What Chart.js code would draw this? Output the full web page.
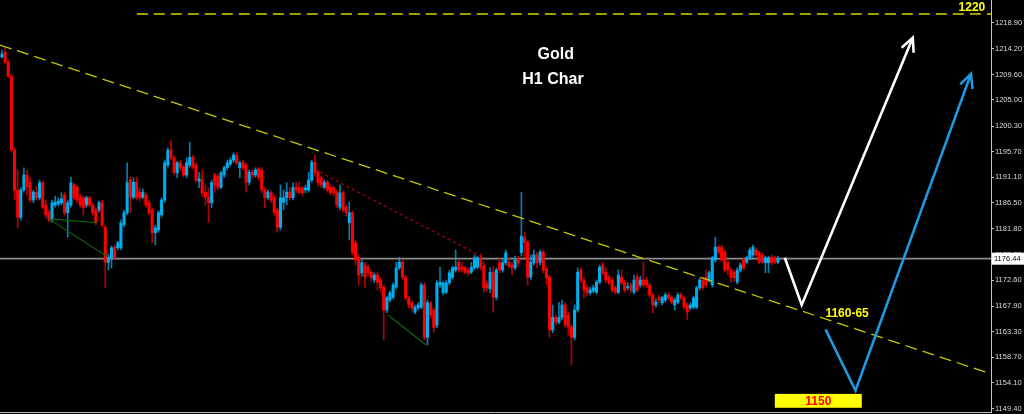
<!DOCTYPE html>
<html><head><meta charset="utf-8">
<script src="https://cdn.jsdelivr.net/npm/chart.js@4.4.1/dist/chart.umd.min.js"></script>
<style>html,body{margin:0;padding:0;background:#000;overflow:hidden}#wrap{width:1024px;height:414px;position:relative}</style>
</head><body><div id="wrap"><canvas id="c" width="1024" height="414"></canvas></div>
<script>
// ---- Candle data (Gold H1) ----
const opens = [
1212.7,1213.6,1211.8,1209.3,1196.0,1188.8,1183.9,1188.8,1191.5,1190.1,
1187.0,1188.4,1187.4,1190.1,1186.1,1184.8,1183.4,1186.1,1186.3,1186.5,
1187.9,1184.7,1186.1,1189.7,1189.3,1187.5,1187.4,1186.1,1187.4,1186.1,
1185.2,1185.2,1186.5,1182.1,1175.8,1176.6,1178.5,1178.4,1178.4,1182.5,
1184.7,1190.6,1187.5,1190.2,1188.4,1187.5,1187.9,1186.5,1185.2,1181.1,
1181.6,1184.3,1187.0,1193.3,1196.0,1194.6,1191.9,1193.7,1192.9,1191.5,
1193.3,1194.7,1193.3,1190.4,1190.6,1188.4,1187.5,1186.5,1191.5,1191.3,
1189.3,1191.5,1192.8,1193.5,1194.2,1195.1,1192.8,1193.7,1193.3,1190.2,
1192.0,1191.5,1192.6,1192.4,1188.8,1187.4,1188.3,1187.5,1185.2,1182.1,
1186.6,1187.4,1188.4,1187.4,1189.3,1189.2,1189.2,1188.8,1188.8,1190.6,
1193.8,1192.0,1191.0,1189.3,1190.2,1189.3,1189.2,1188.4,1185.7,1188.3,
1185.7,1182.9,1184.7,1179.3,1176.7,1173.9,1175.3,1174.9,1174.0,1172.6,
1173.5,1172.6,1171.3,1167.2,1169.0,1169.5,1171.3,1174.8,1175.8,1173.1,
1169.4,1168.5,1166.8,1167.6,1167.7,1171.7,1162.3,1168.5,1167.2,1164.5,
1171.7,1170.3,1170.4,1172.1,1173.1,1174.4,1175.8,1174.9,1174.8,1174.4,
1174.0,1174.8,1174.9,1176.6,1175.1,1171.9,1171.0,1174.0,1169.5,1175.7,
1174.4,1175.7,1175.8,1175.3,1174.8,1176.4,1177.5,1180.3,1179.4,1173.1,
1175.7,1177.1,1175.8,1177.6,1174.6,1173.1,1163.6,1165.9,1165.0,1165.9,
1168.1,1166.3,1164.1,1162.3,1167.2,1174.4,1172.6,1171.2,1170.3,1170.6,
1170.4,1172.2,1175.3,1174.0,1173.1,1172.6,1171.2,1170.4,1173.1,1172.2,
1171.2,1171.7,1170.4,1173.1,1171.7,1172.6,1172.6,1171.7,1169.9,1168.1,
1169.5,1168.5,1169.0,1169.9,1169.5,1168.1,1168.6,1169.9,1169.4,1168.1,
1167.6,1167.7,1167.7,1171.2,1172.6,1173.1,1172.6,1171.7,1176.2,1178.5,
1178.5,1177.6,1175.7,1174.4,1174.0,1172.2,1174.4,1176.2,1175.8,1176.6,
1177.1,1178.0,1177.5,1177.1,1175.7,1175.7,1176.7,1176.6,1175.8];
const closes = [
1213.3,1211.8,1209.3,1196.0,1188.8,1183.9,1188.8,1191.5,1189.3,1187.0,
1188.4,1187.4,1190.1,1185.7,1184.3,1183.4,1186.5,1186.6,1186.8,1187.2,
1184.7,1186.5,1190.1,1187.4,1187.0,1186.1,1185.7,1187.4,1186.1,1184.7,
1182.9,1186.5,1182.5,1175.8,1176.7,1178.4,1176.7,1179.3,1182.9,1184.7,
1190.1,1187.5,1190.2,1187.4,1187.4,1188.4,1186.1,1184.7,1181.1,1182.0,
1184.7,1187.0,1193.7,1196.0,1194.6,1191.9,1193.7,1192.8,1191.5,1193.7,
1194.7,1192.9,1190.6,1190.8,1188.3,1187.5,1186.5,1190.1,1189.7,1189.3,
1191.9,1192.8,1193.7,1194.2,1195.1,1193.7,1193.7,1192.8,1190.2,1192.0,
1191.5,1192.4,1191.1,1188.8,1187.4,1188.4,1187.0,1184.8,1182.1,1187.4,
1187.4,1188.4,1187.4,1189.3,1188.8,1188.4,1188.3,1189.2,1190.6,1193.8,
1191.9,1190.1,1189.7,1190.2,1188.8,1188.3,1188.3,1186.1,1188.3,1185.2,
1184.7,1184.7,1177.6,1176.2,1173.5,1175.7,1173.1,1173.9,1173.0,1173.5,
1172.2,1171.2,1167.2,1169.4,1170.3,1171.7,1174.8,1175.8,1173.1,1169.4,
1168.1,1167.6,1167.7,1168.1,1171.7,1162.3,1168.5,1166.3,1164.1,1172.1,
1172.2,1172.1,1172.1,1173.9,1174.8,1174.9,1174.4,1174.4,1174.0,1173.9,
1174.9,1176.6,1176.6,1174.9,1171.2,1171.2,1174.0,1169.5,1174.4,1174.4,
1175.7,1177.5,1175.1,1174.8,1176.2,1175.7,1180.5,1179.3,1173.1,1175.8,
1177.1,1175.7,1177.6,1174.4,1173.0,1163.6,1165.9,1165.0,1165.9,1168.1,
1164.5,1164.1,1162.3,1167.2,1174.0,1172.6,1170.8,1170.3,1170.8,1171.2,
1172.2,1174.9,1173.9,1172.6,1172.1,1170.8,1170.4,1173.5,1172.1,1170.8,
1171.3,1170.8,1172.6,1170.8,1172.6,1171.7,1171.7,1169.9,1168.1,1168.6,
1169.0,1169.4,1169.9,1169.4,1168.6,1169.0,1169.9,1169.4,1167.7,1166.8,
1168.1,1169.4,1171.2,1172.6,1171.2,1171.7,1173.9,1176.6,1178.5,1177.6,
1176.2,1174.4,1174.4,1173.0,1173.0,1174.4,1175.3,1174.8,1176.6,1178.0,
1178.5,1177.1,1175.8,1175.8,1176.6,1176.6,1175.7,1175.8,1176.44];
const highs = [
1214.0,1214.4,1212.2,1209.7,1196.4,1192.4,1189.2,1192.8,1192.4,1191.0,
1188.8,1189.5,1190.6,1190.4,1187.0,1185.2,1187.0,1187.7,1187.4,1188.3,
1188.4,1187.0,1191.1,1190.1,1189.7,1188.1,1187.7,1187.7,1187.7,1186.5,
1185.6,1186.8,1187.0,1182.5,1177.3,1178.7,1178.9,1179.6,1183.4,1185.2,
1193.7,1191.1,1191.0,1191.1,1189.2,1189.0,1188.3,1187.0,1185.6,1182.5,
1185.0,1187.4,1194.2,1196.4,1197.8,1194.9,1194.0,1194.2,1193.3,1194.6,
1197.4,1195.1,1193.7,1192.0,1192.4,1189.7,1189.2,1190.6,1191.9,1191.7,
1192.2,1193.1,1194.2,1194.6,1195.5,1195.5,1194.0,1194.2,1193.7,1192.4,
1192.4,1192.8,1192.9,1192.8,1189.2,1188.8,1188.6,1187.9,1185.6,1189.7,
1188.8,1190.1,1189.2,1190.1,1190.2,1190.2,1189.5,1189.7,1192.0,1194.2,
1195.1,1192.4,1191.3,1190.6,1190.6,1189.7,1189.5,1188.8,1189.7,1188.6,
1186.1,1186.6,1185.0,1179.8,1177.1,1176.2,1175.8,1175.3,1174.4,1173.9,
1174.0,1173.0,1171.7,1169.7,1170.6,1172.1,1175.8,1176.7,1176.2,1173.5,
1169.7,1168.8,1168.1,1168.5,1172.1,1172.1,1169.0,1168.8,1167.6,1172.6,
1174.9,1172.4,1172.6,1174.4,1175.1,1178.0,1176.2,1175.8,1175.1,1174.8,
1175.8,1177.1,1176.9,1177.3,1175.8,1172.4,1174.8,1175.1,1174.8,1176.6,
1176.2,1178.0,1176.6,1175.8,1176.9,1176.9,1188.4,1181.2,1179.8,1177.1,
1178.0,1177.6,1178.0,1178.0,1175.1,1173.5,1168.1,1166.3,1168.6,1169.0,
1168.6,1166.8,1164.5,1168.1,1174.8,1174.8,1173.0,1171.7,1171.3,1171.7,
1172.6,1175.3,1175.8,1174.8,1173.5,1173.0,1171.5,1174.4,1174.4,1172.6,
1172.1,1172.1,1173.5,1173.7,1173.3,1175.8,1173.1,1172.1,1170.3,1169.2,
1169.9,1169.7,1170.3,1170.3,1169.9,1169.4,1170.3,1170.3,1169.7,1168.5,
1168.5,1169.7,1171.5,1173.0,1173.1,1174.4,1174.2,1176.9,1180.3,1178.9,
1178.9,1178.0,1176.0,1174.8,1174.4,1174.8,1175.7,1176.6,1176.9,1178.4,
1178.9,1178.4,1177.8,1177.5,1176.9,1176.9,1177.1,1176.9,1176.9];
const lows = [
1212.6,1211.5,1209.0,1195.6,1187.0,1182.0,1183.4,1188.4,1187.9,1186.6,
1186.5,1187.0,1187.0,1185.4,1183.8,1183.0,1183.0,1185.7,1185.9,1186.1,
1184.3,1180.3,1185.7,1187.0,1186.5,1185.7,1184.3,1185.7,1185.7,1184.3,
1182.5,1184.8,1182.1,1171.2,1174.4,1174.8,1176.4,1178.0,1178.0,1182.1,
1184.3,1184.7,1187.2,1187.0,1186.8,1187.2,1185.7,1184.3,1179.3,1178.9,
1181.2,1183.9,1186.6,1192.9,1194.2,1191.5,1191.0,1192.4,1191.1,1191.0,
1192.9,1192.6,1190.1,1189.2,1187.7,1186.1,1183.0,1185.6,1188.4,1188.8,
1189.0,1191.0,1192.4,1193.1,1193.8,1193.3,1191.0,1192.4,1188.4,1189.7,
1191.0,1191.1,1190.6,1188.3,1185.6,1187.0,1186.5,1184.3,1181.2,1181.6,
1185.2,1186.1,1187.0,1187.0,1188.3,1188.1,1187.7,1188.3,1188.4,1190.2,
1191.3,1189.5,1189.2,1189.0,1188.4,1187.9,1187.7,1185.6,1185.2,1184.8,
1184.1,1179.8,1177.1,1175.3,1171.7,1173.3,1171.2,1173.3,1172.4,1172.1,
1170.8,1170.4,1161.8,1166.7,1168.6,1169.2,1171.0,1174.4,1172.8,1169.0,
1167.6,1167.0,1166.5,1167.2,1167.4,1161.8,1160.9,1165.8,1163.2,1164.0,
1171.2,1169.9,1170.1,1171.7,1172.8,1174.0,1174.0,1174.0,1173.7,1173.5,
1173.7,1174.4,1174.6,1174.4,1170.4,1170.6,1170.3,1166.8,1169.0,1173.9,
1174.0,1175.3,1174.8,1173.5,1174.4,1175.1,1176.9,1176.6,1171.7,1172.6,
1175.3,1174.8,1175.3,1173.9,1171.7,1162.3,1163.1,1164.5,1164.7,1165.4,
1164.0,1162.7,1157.3,1161.8,1166.8,1172.1,1169.4,1169.7,1169.9,1170.3,
1170.1,1171.9,1173.5,1172.1,1171.7,1170.4,1170.1,1170.1,1171.7,1170.4,
1170.8,1170.3,1170.1,1170.4,1171.3,1171.3,1171.2,1169.5,1166.7,1167.7,
1168.5,1168.1,1168.6,1169.0,1168.3,1167.2,1168.3,1169.0,1167.4,1165.4,
1167.2,1167.4,1167.4,1170.8,1170.8,1171.3,1172.2,1171.3,1175.8,1177.3,
1175.8,1174.0,1173.5,1172.2,1172.4,1171.9,1174.0,1174.4,1175.5,1176.2,
1176.7,1176.7,1175.5,1175.5,1173.9,1173.9,1175.3,1175.5,1175.5];

// ---- Axis ----
const tickLabels = ['1218.90','1214.20','1209.60','1205.00','1200.30','1195.70','1191.10','1186.50',
  '1181.80','1177.20','1172.60','1167.90','1163.30','1158.70','1154.10','1149.40'];
const priceMax = 1223.0, priceMin = 1148.84;
const barMin = -0.64, barMax = 316.1;   // visible bar-index window (chart shifted left)
const lastPrice = 1176.44;

// ---- Annotations (bar index, price) ----
const trendMain = [[-0.64, 1214.9], [316.1, 1155.7]];
const level1220 = [[43.1, 1220.5], [316.1, 1220.5]];
const trendRed = [[101.6, 1192.0], [153.7, 1176.7]];
const greenLines = [
  [[15.0, 1183.6], [30.4, 1182.9]],
  [[15.0, 1183.6], [33.9, 1176.7]],
  [[123.4, 1166.3], [135.5, 1160.9]]
];
const whitePath = [[250.2, 1176.6], [255.6, 1168.1], [291.1, 1216.2]];
const bluePath = [[263.2, 1163.7], [272.8, 1152.7], [309.7, 1209.7]];
const titleText = ['Gold', 'H1 Char'];
const titlePos = [[177.0, 1213.1], [176.1, 1208.6]];
const zoneText = '1160-65', zonePos = [270.1, 1166.5];
const targetText = '1150', targetBox = [[247.0, 1152.1], [274.8, 1149.6]];
const levelText = '1220', levelTextPos = [310.0, 1221.7];

const BULL = '#00aef0', BEAR = '#ff0000';
const BULL_W = 'rgba(0,160,225,0.8)', BEAR_W = 'rgba(215,0,0,0.85)';

const idx = closes.map((_, i) => i);
const isBull = closes.map((c, i) => c >= opens[i]);

const bgPlugin = {
  id: 'bg',
  beforeDraw(c) { const x = c.ctx; x.save(); x.fillStyle = '#000'; x.fillRect(0, 0, c.width, c.height); x.restore(); }
};

function px(c, p) { return [c.scales.x.getPixelForValue(p[0]), c.scales.y.getPixelForValue(p[1])]; }
function line(ctx, c, a, b) { const A = px(c, a), B = px(c, b); ctx.beginPath(); ctx.moveTo(A[0], A[1]); ctx.lineTo(B[0], B[1]); ctx.stroke(); }
function arrow(ctx, c, pts, color) {
  const P = pts.map(p => px(c, p));
  ctx.save();
  ctx.strokeStyle = color; ctx.lineWidth = 2.6; ctx.lineJoin = 'miter'; ctx.lineCap = 'butt';
  ctx.beginPath(); ctx.moveTo(P[0][0], P[0][1]);
  for (let i = 1; i < P.length; i++) ctx.lineTo(P[i][0], P[i][1]);
  ctx.stroke();
  const t = P[P.length - 1], s = P[P.length - 2];
  const ang = Math.atan2(t[1] - s[1], t[0] - s[0]);
  const L = 15, sp = 0.45;
  ctx.beginPath();
  ctx.moveTo(t[0] - L * Math.cos(ang - sp), t[1] - L * Math.sin(ang - sp));
  ctx.lineTo(t[0], t[1]);
  ctx.lineTo(t[0] - L * Math.cos(ang + sp), t[1] - L * Math.sin(ang + sp));
  ctx.stroke();
  ctx.restore();
}

const overlay = {
  id: 'overlay',
  beforeDatasetsDraw(c) {
    const ctx = c.ctx, a = c.chartArea;
    const y = c.scales.y.getPixelForValue(lastPrice);
    ctx.save();
    ctx.strokeStyle = '#8c8c8c'; ctx.lineWidth = 1.6;
    ctx.beginPath(); ctx.moveTo(a.left, y); ctx.lineTo(a.right, y); ctx.stroke();
    ctx.restore();
  },
  afterDatasetsDraw(c) {
    const ctx = c.ctx, a = c.chartArea;
    ctx.save();
    ctx.beginPath(); ctx.rect(a.left, 0, a.right - a.left, c.height); ctx.clip();
    ctx.strokeStyle = '#c8c800'; ctx.lineWidth = 1.3; ctx.setLineDash([12, 6]);
    line(ctx, c, trendMain[0], trendMain[1]);
    ctx.strokeStyle = '#d2d200'; ctx.lineWidth = 1.5; ctx.setLineDash([11, 6]);
    line(ctx, c, level1220[0], level1220[1]);
    ctx.strokeStyle = '#b40000'; ctx.lineWidth = 1.2; ctx.setLineDash([3, 3]);
    line(ctx, c, trendRed[0], trendRed[1]);
    ctx.setLineDash([]); ctx.strokeStyle = '#0b6a0b'; ctx.lineWidth = 1.1;
    greenLines.forEach(g => line(ctx, c, g[0], g[1]));
    arrow(ctx, c, whitePath, '#ffffff');
    arrow(ctx, c, bluePath, '#1e9ae0');
    ctx.textAlign = 'center'; ctx.textBaseline = 'middle';
    ctx.fillStyle = '#ffffff'; ctx.font = 'bold 16px "Liberation Sans", Arial, sans-serif';
    titleText.forEach((t, i) => { const p = px(c, titlePos[i]); ctx.fillText(t, p[0], p[1]); });
    ctx.fillStyle = '#ffff00'; ctx.font = 'bold 12px "Liberation Sans", Arial, sans-serif';
    let p = px(c, zonePos); ctx.fillText(zoneText, p[0], p[1]);
    p = px(c, levelTextPos); ctx.fillText(levelText, p[0], p[1]);
    const b0 = px(c, targetBox[0]), b1 = px(c, targetBox[1]);
    ctx.fillStyle = '#ffff00'; ctx.fillRect(b0[0], b0[1], b1[0] - b0[0], b1[1] - b0[1]);
    ctx.fillStyle = '#ff0000'; ctx.font = 'bold 12px "Liberation Sans", Arial, sans-serif';
    ctx.fillText(targetText, (b0[0] + b1[0]) / 2, (b0[1] + b1[1]) / 2 + 0.5);
    ctx.restore();
  },
  afterDraw(c) {
    const ctx = c.ctx, a = c.chartArea;
    ctx.save();
    ctx.strokeStyle = '#bdbdbd'; ctx.lineWidth = 1;
    ctx.beginPath(); ctx.moveTo(a.left, a.bottom + 0.5); ctx.lineTo(a.right, a.bottom + 0.5); ctx.stroke();
    const y = c.scales.y.getPixelForValue(lastPrice);
    ctx.fillStyle = '#ffffff'; ctx.fillRect(a.right + 1, y - 6, c.width - a.right - 1, 12);
    ctx.fillStyle = '#000000'; ctx.font = '7.5px "Liberation Sans", Arial, sans-serif';
    ctx.textAlign = 'left'; ctx.textBaseline = 'middle';
    ctx.fillText(lastPrice.toFixed(2), a.right + 3, y + 0.5);
    ctx.restore();
  }
};

new Chart(document.getElementById('c'), {
  type: 'bar',
  data: {
    datasets: [
      {
        label: 'wick',
        data: idx.map(i => ({ x: i, y: [lows[i], highs[i]] })),
        backgroundColor: idx.map(i => isBull[i] ? BULL_W : BEAR_W),
        barThickness: 1, grouped: false, borderWidth: 0, borderSkipped: false, order: 2
      },
      {
        label: 'body',
        data: idx.map(i => ({ x: i, y: [opens[i], closes[i]] })),
        backgroundColor: idx.map(i => isBull[i] ? BULL : BEAR),
        barThickness: 2.4, minBarLength: 1, grouped: false, borderWidth: 0, borderSkipped: false, order: 1
      }
    ]
  },
  options: {
    responsive: false, animation: false, devicePixelRatio: 1,
    layout: { padding: { left: 0, right: 0, top: 0, bottom: 2 } },
    plugins: { legend: { display: false }, tooltip: { enabled: false } },
    scales: {
      x: { type: 'linear', min: barMin, max: barMax, display: false, offset: false },
      y: {
        position: 'right', min: priceMin, max: priceMax,
        afterFit(s) { s.width = 33; s.paddingTop = 0; s.paddingBottom = 0; },
        afterBuildTicks(s) { s.ticks = tickLabels.map(t => ({ value: parseFloat(t) })); },
        ticks: {
          autoSkip: false, padding: 1, color: '#dcdcdc',
          font: { family: '"Liberation Sans", Arial, sans-serif', size: 7.5 },
          callback: (v, i) => tickLabels[i]
        },
        grid: { drawOnChartArea: false, drawTicks: true, tickLength: 3, color: '#c0c0c0' },
        border: { display: true, color: '#c8c8c8', width: 1 }
      }
    }
  },
  plugins: [bgPlugin, overlay]
});
</script>
</body></html>
